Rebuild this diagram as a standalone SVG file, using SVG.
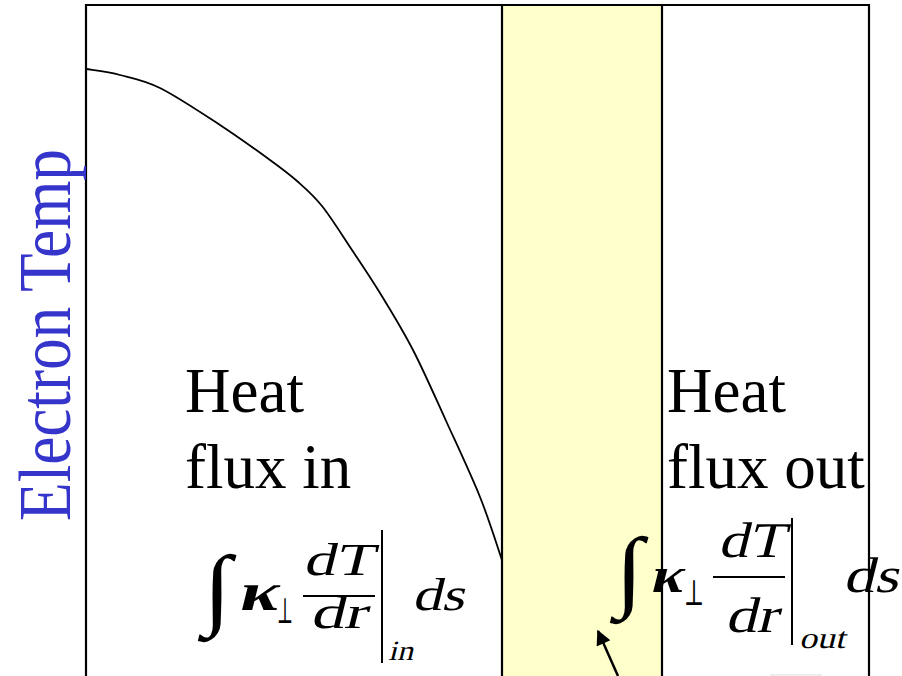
<svg xmlns="http://www.w3.org/2000/svg" width="902" height="676" viewBox="0 0 902 676">
<style>
.frame{fill:none;stroke:#000;stroke-width:2.2}
.curve{fill:none;stroke:#000;stroke-width:1.8}
.lbl{font-family:"Liberation Serif","Times New Roman",serif;font-size:63px;fill:#000}
.m{font-family:"Liberation Serif","Times New Roman",serif;fill:#000}
.k{font-family:"Liberation Serif","Times New Roman",serif;font-weight:bold;fill:#000}
.sym{font-family:"Liberation Serif","DejaVu Serif",serif;fill:#000}
.int{font-family:"Liberation Serif","DejaVu Serif",serif;font-weight:bold;fill:#000}
.axis{font-family:"Liberation Serif","Times New Roman",serif;font-size:62px;fill:#3535cc}
.rule{stroke:#000;stroke-width:2}
</style>
<defs>
<marker id="ah" viewBox="0 0 10 10" refX="9" refY="5" markerWidth="7" markerHeight="6" orient="auto" markerUnits="strokeWidth">
<path d="M0,0 L10,5 L0,10 z" fill="#000"/>
</marker>
</defs>
<rect x="0" y="0" width="902" height="676" fill="#fff"/>
<g id="band">
<rect x="502" y="5" width="160" height="672" fill="#ffffcc"/>
<line class="frame" x1="502" y1="5" x2="502" y2="676"/>
<line class="frame" x1="662" y1="5" x2="662" y2="676"/>
</g>
<g id="plot-frame">
<path class="frame" d="M86,676 L86,5 L869,5 L869,676"/>
</g>
<g id="temperature-curve">
<path class="curve" d="M86,69 C91.7,70 107.7,71.8 120,75 C132.3,78.2 143.3,79.7 160,88 C176.7,96.3 201.7,113 220,125 C238.3,137 257.2,150.7 270,160 C282.8,169.3 288.3,173.3 297,181 C305.7,188.7 312.8,194.5 322,206 C331.2,217.5 342.3,235.5 352,250 C361.7,264.5 369.8,276.3 380,293 C390.2,309.7 401.8,328.3 413,350 C424.2,371.7 435.8,398.5 447,423 C458.2,447.5 470.8,474.2 480,497 C489.2,519.8 498.3,549.5 502,560"/>
</g>
<g id="axis-label">
<text class="axis" transform="translate(70,521) rotate(-90) scale(1,1.2)" x="0" y="0" textLength="372" lengthAdjust="spacingAndGlyphs">Electron Temp</text>
</g>
<g id="heat-flux-in">
<text class="lbl" x="185" y="412">Heat</text>
<text class="lbl" x="185" y="488">flux in</text>
</g>
<g id="heat-flux-out">
<text class="lbl" x="667" y="412">Heat</text>
<text class="lbl" x="667" y="488">flux out</text>
</g>
<g id="formula-in">
<text class="int" x="203" y="618" font-size="90" textLength="28" lengthAdjust="spacingAndGlyphs">∫</text>
<text class="k" transform="translate(237,610) skewX(-14)" font-size="54" textLength="40" lengthAdjust="spacingAndGlyphs">κ</text>
<text class="sym" x="277" y="623" font-size="36" textLength="16" lengthAdjust="spacingAndGlyphs">⊥</text>
<text class="m" transform="translate(303,575) skewX(-14)" font-size="46" textLength="70" lengthAdjust="spacingAndGlyphs">dT</text>
<line class="rule" x1="303" y1="596" x2="375" y2="596"/>
<text class="m" transform="translate(310,628) skewX(-14)" font-size="46" textLength="56" lengthAdjust="spacingAndGlyphs">dr</text>
<line class="rule" x1="382" y1="530" x2="382" y2="663"/>
<text class="m" transform="translate(388,660) skewX(-14)" font-size="28" textLength="25" lengthAdjust="spacingAndGlyphs">in</text>
<text class="m" transform="translate(412,610) skewX(-14)" font-size="46" textLength="52" lengthAdjust="spacingAndGlyphs">ds</text>
</g>
<g id="formula-out">
<text class="int" x="615" y="600" font-size="90" textLength="28" lengthAdjust="spacingAndGlyphs">∫</text>
<text class="k" transform="translate(649,592) skewX(-14)" font-size="50" textLength="33" lengthAdjust="spacingAndGlyphs">κ</text>
<text class="sym" x="684" y="605" font-size="36" textLength="20" lengthAdjust="spacingAndGlyphs">⊥</text>
<text class="m" transform="translate(718,557) skewX(-14)" font-size="50" textLength="66" lengthAdjust="spacingAndGlyphs">dT</text>
<line class="rule" x1="713" y1="577" x2="785" y2="577"/>
<text class="m" transform="translate(725,632) skewX(-14)" font-size="50" textLength="52" lengthAdjust="spacingAndGlyphs">dr</text>
<line class="rule" x1="792" y1="518" x2="792" y2="645"/>
<text class="m" transform="translate(799,648) skewX(-14)" font-size="30" textLength="46" lengthAdjust="spacingAndGlyphs">out</text>
<text class="m" transform="translate(843,592) skewX(-14)" font-size="50" textLength="55" lengthAdjust="spacingAndGlyphs">ds</text>
</g>
<g id="connectors">
<line x1="618" y1="676" x2="598" y2="631" stroke="#000" stroke-width="2.5" marker-end="url(#ah)"/>
<line x1="770" y1="675" x2="822" y2="675" stroke="#e6e6e6" stroke-width="1.5"/>
</g>
</svg>
